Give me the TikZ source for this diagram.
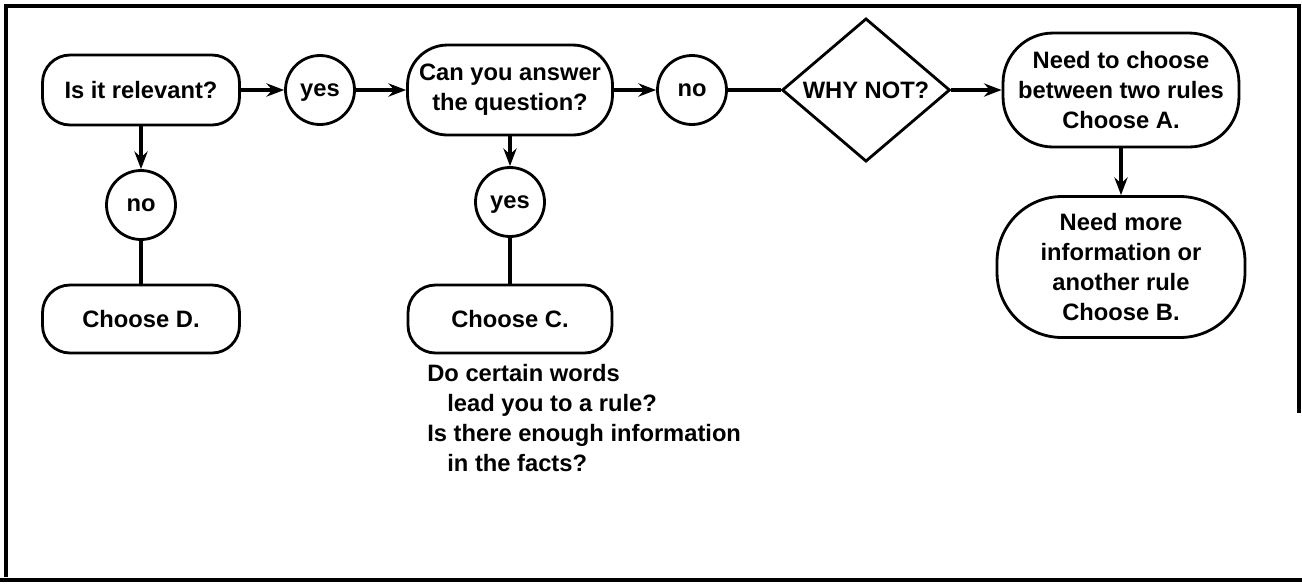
\documentclass[tikz,border=0pt]{standalone}
\usepackage{fontspec}
\setmainfont{Liberation Sans}
\usetikzlibrary{arrows.meta,shapes.geometric}

\begin{document}
\begin{tikzpicture}[x=0.02cm,y=-0.02cm,
    box/.style={draw=black,line width=1.6pt,inner sep=0pt,
        font=\bfseries\fontsize{13.5}{17}\selectfont},
    pill/.style={box,align=center,rounded corners=0.55cm},
    answer/.style={box,circle,minimum size=1.38cm,text height=7pt,
        text depth=0pt},
    query/.style={box,diamond,minimum width=3.36cm,minimum height=2.4cm},
    flow/.style={line width=2.3pt,-{Stealth[length=10pt,width=7.5pt]}},
    link/.style={line width=2.3pt},
    note/.style={font=\bfseries\fontsize{13.5}{17}\selectfont,align=left,
        inner sep=0pt}
]
    \useasboundingbox (0,0) rectangle (1302,583);

    \draw[line width=1.8pt] (6,577) -- (6,6) -- (1299,6) -- (1299,413);
    \draw[line width=1.8pt] (0,580) -- (1302,580);

    \node[pill,minimum width=3.94cm,minimum height=1.4cm] (relevant)
        at (141,90) {Is it relevant?};
    \node[pill,rounded corners=0.8cm,minimum width=4.1cm,minimum height=1.8cm]
        (answerq) at (510,90) {Can you answer\\the question?};
    \node[query] (whynot) at (866,90) {WHY NOT?};
    \node[pill,rounded corners=1cm,minimum width=4.72cm,minimum height=2.28cm]
        (choosea) at (1121,90) {Need to choose\\between two rules\\Choose A.};
    \node[pill,rounded corners=1.3cm,minimum width=4.96cm,minimum height=2.82cm]
        (chooseb) at (1121,267) {Need more\\information or\\another rule\\Choose B.};
    \node[pill,minimum width=3.94cm,minimum height=1.36cm] (choosed)
        at (141,319) {Choose D.};
    \node[pill,minimum width=4.08cm,minimum height=1.36cm] (choosec)
        at (510,319) {Choose C.};

    \foreach \name/\x/\y/\word in {
        yes1/320/90/yes,no2/692/90/no,no1/141/205/no,yes2/510/202/yes}
        \node[answer] (\name) at (\x,\y) {\word};

    \node[note,anchor=north west] (hints) at (427,364)
        {Do certain words\\\hspace*{0.4cm}lead you to a rule?\\
         Is there enough information\\\hspace*{0.4cm}in the facts?};

    \draw[flow] (relevant) -- (yes1);
    \draw[flow] (yes1) -- (answerq);
    \draw[flow] (answerq) -- (no2);
    \draw[link] (no2) -- (whynot);
    \draw[flow] (whynot) -- (choosea);
    \draw[flow] (choosea) -- (chooseb);
    \draw[flow] (relevant) -- (no1);
    \draw[link] (no1) -- (choosed);
    \draw[flow] (answerq) -- (yes2);
    \draw[link] (yes2) -- (choosec);

\end{tikzpicture}
\end{document}
